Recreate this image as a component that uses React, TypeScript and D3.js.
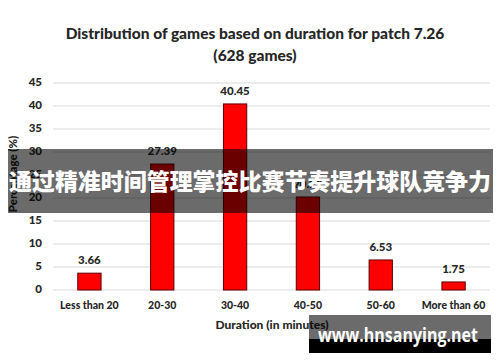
import * as d3 from 'd3'

const categories = ['Less than 20', '20-30', '30-40', '40-50', '50-60', 'More than 60']
const percentages = [3.66, 27.39, 40.45, 20.22, 6.53, 1.75]
const yTicks = [0, 5, 10, 15, 20, 25, 30, 35, 40, 45]

const WIDTH = 500
const HEIGHT = 362
const MARGIN = { top: 83, right: 10, bottom: 72, left: 53 }
const FONT = 'Lato, "Open Sans", sans-serif'

const App = () => {
  const boundsWidth = WIDTH - MARGIN.left - MARGIN.right
  const boundsHeight = HEIGHT - MARGIN.top - MARGIN.bottom

  const xScale = d3.scaleBand().domain(categories).range([0, boundsWidth]).paddingInner(0.68).paddingOuter(0.34)
  const yScale = d3.scaleLinear().domain([0, 45]).range([boundsHeight, 0])

  const bars = categories.map((c, i) => {
    const x = xScale(c) ?? 0
    const y = yScale(percentages[i])
    return (
      <g key={c}>
        <rect
          x={x}
          y={y}
          width={xScale.bandwidth()}
          height={boundsHeight - y}
          fill="#ff0000"
          stroke="#5c0000"
          strokeWidth={1}
        />
        <text
          x={x + xScale.bandwidth() / 2}
          y={y - 9}
          textAnchor="middle"
          fontSize="11.5"
          fontWeight="900"
          fill="#262626"
        >
          {percentages[i].toFixed(2)}
        </text>
        <text
          x={x + xScale.bandwidth() / 2}
          y={boundsHeight + 19}
          textAnchor="middle"
          fontSize="10.5"
          fontWeight="900"
          fill="#262626"
        >
          {c}
        </text>
      </g>
    )
  })

  return (
    <div style={{ position: 'absolute', left: 0, top: 0 }}>
      <svg width={WIDTH} height={HEIGHT} style={{ display: 'block', fontFamily: FONT }}>
        <rect width={WIDTH} height={HEIGHT} fill="#ffffff" />
        <text x={255} y={39} textAnchor="middle" fontSize="15.5" fontWeight="900" fill="#262626">
          Distribution of games based on duration for patch 7.26
        </text>
        <text x={255} y={61} textAnchor="middle" fontSize="15.5" fontWeight="900" fill="#262626">
          (628 games)
        </text>
        <g transform={`translate(${MARGIN.left},${MARGIN.top})`}>
          {yTicks.map((t) => (
            <g key={t}>
              <line x1={0} x2={boundsWidth} y1={yScale(t)} y2={yScale(t)} stroke="#d9d9d9" strokeWidth={1} />
              <text
                x={-11}
                y={yScale(t)}
                textAnchor="end"
                dominantBaseline="middle"
                fontSize="11.5"
                fontWeight="900"
                fill="#262626"
              >
                {t}
              </text>
            </g>
          ))}
          {bars}
        </g>
        <text x={272} y={329} textAnchor="middle" fontSize="12" fontWeight="900" fill="#262626">
          Duration (in minutes)
        </text>
        <text
          transform="translate(17,174) rotate(-90)"
          textAnchor="middle"
          fontSize="11.5"
          fontWeight="900"
          fill="#262626"
        >
          Percentage (%)
        </text>

        {/* overlay banner */}
        <rect x={8} y={149} width={485} height={64} fill="#000000" fillOpacity={0.58} />
        <text
          x={250}
          y={190}
          textAnchor="middle"
          fontSize="23"
          fontWeight="900"
          fill="#ffffff"
          style={{ fontFamily: '"Noto Sans CJK SC", sans-serif' }}
          textLength={482}
          lengthAdjust="spacingAndGlyphs"
        >
          通过精准时间管理掌控比赛节奏提升球队竞争力
        </text>

        {/* watermark */}
        <rect x={309} y={315} width={182} height={24} fill="#000000" fillOpacity={0.58} />
        <rect x={309} y={339} width={182} height={14} fill="#000000" />
        <text
          x={398}
          y={342}
          textAnchor="middle"
          fontSize="19"
          fontWeight="bold"
          fill="#ffffff"
          style={{ fontFamily: '"Open Sans", sans-serif' }}
          textLength={160}
          lengthAdjust="spacingAndGlyphs"
        >
          www.hnsanying.net
        </text>
      </svg>
    </div>
  )
}

export default App
